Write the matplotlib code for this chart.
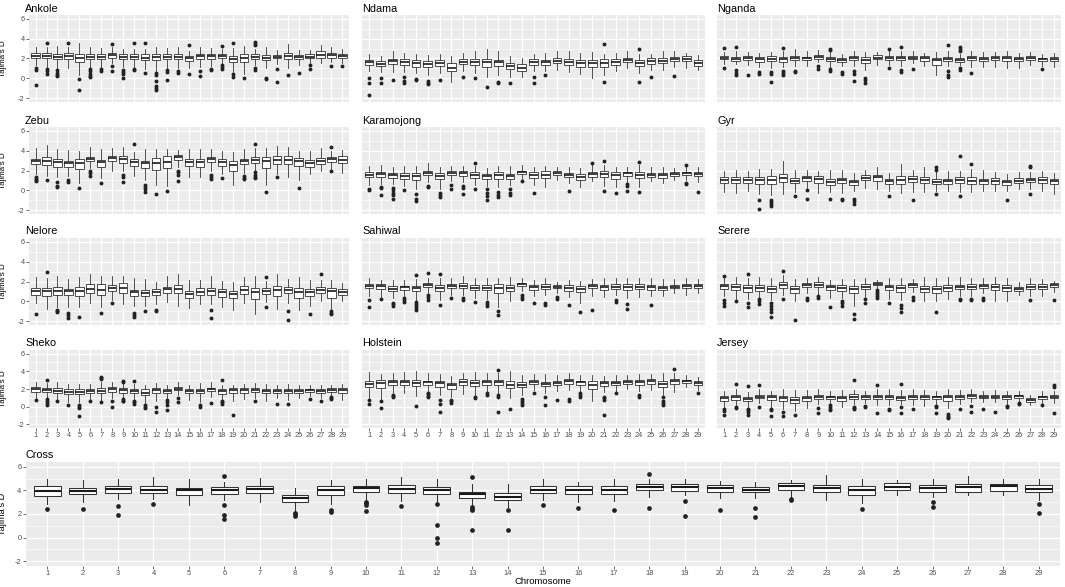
import matplotlib
matplotlib.use("Agg")
import matplotlib.pyplot as plt

plt.rcParams['font.family'] = ['Liberation Sans', 'DejaVu Sans']

# Tajima's D per chromosome, box statistics
chromosomes = list(range(1, 30))
breeds = ["Ankole", "Ndama", "Nganda", "Zebu", "Karamojong", "Gyr",
          "Nelore", "Sahiwal", "Serere", "Sheko", "Holstein", "Jersey"]

median = {
    "Ankole": [2.3, 2.3, 2.2, 2.25, 2.1, 2.15, 2.2, 2.35, 2.2, 2.2, 2.1, 2.15, 2.2, 2.2, 2.05, 2.25, 2.25, 2.3, 1.95, 2.05, 2.2, 2.1, 2.2, 2.3, 2.15, 2.2, 2.4, 2.35, 2.25],
    "Ndama": [1.6, 1.45, 1.7, 1.6, 1.5, 1.4, 1.55, 1.05, 1.65, 1.65, 1.6, 1.6, 1.2, 1.05, 1.65, 1.6, 1.75, 1.6, 1.5, 1.5, 1.55, 1.65, 1.85, 1.55, 1.7, 1.75, 1.95, 1.95, 1.55],
    "Nganda": [2.1, 1.95, 2.05, 1.9, 1.95, 1.95, 2.05, 2.0, 2.15, 1.95, 1.85, 2.05, 1.85, 2.1, 2.05, 2.05, 2.1, 2.0, 1.8, 1.95, 1.85, 2.05, 1.95, 2.0, 2.0, 1.9, 2.05, 1.9, 1.95],
    "Zebu": [3.0, 3.0, 2.85, 2.75, 2.8, 3.2, 2.85, 3.25, 3.15, 2.85, 2.75, 2.8, 2.9, 3.35, 2.85, 2.9, 3.15, 2.85, 2.6, 2.95, 3.1, 2.95, 3.05, 3.05, 3.0, 2.8, 3.0, 3.15, 3.1],
    "Karamojong": [1.55, 1.6, 1.5, 1.45, 1.4, 1.75, 1.45, 1.7, 1.7, 1.55, 1.4, 1.55, 1.4, 1.85, 1.5, 1.55, 1.75, 1.55, 1.35, 1.6, 1.65, 1.5, 1.7, 1.55, 1.55, 1.5, 1.65, 1.75, 1.6],
    "Gyr": [1.0, 1.05, 1.0, 1.0, 1.05, 1.25, 0.95, 1.2, 1.1, 0.85, 1.0, 0.8, 1.25, 1.3, 0.9, 1.0, 1.15, 1.05, 0.85, 0.95, 1.0, 0.95, 0.95, 0.95, 0.8, 0.95, 1.05, 1.0, 0.9],
    "Nelore": [1.0, 1.0, 1.05, 1.0, 1.05, 1.25, 1.1, 1.35, 1.35, 0.9, 0.85, 0.95, 1.2, 1.2, 0.7, 0.95, 1.05, 0.95, 0.7, 1.15, 0.9, 1.05, 1.1, 1.15, 0.95, 0.95, 1.1, 1.05, 0.95],
    "Sahiwal": [1.55, 1.5, 1.25, 1.4, 1.3, 1.6, 1.35, 1.55, 1.5, 1.35, 1.35, 1.35, 1.35, 1.7, 1.4, 1.45, 1.45, 1.35, 1.25, 1.55, 1.4, 1.45, 1.45, 1.45, 1.4, 1.3, 1.45, 1.55, 1.55],
    "Serere": [1.5, 1.45, 1.3, 1.35, 1.25, 1.65, 1.25, 1.65, 1.65, 1.4, 1.35, 1.2, 1.45, 1.75, 1.4, 1.35, 1.6, 1.25, 1.2, 1.3, 1.45, 1.45, 1.55, 1.45, 1.3, 1.25, 1.45, 1.45, 1.6],
    "Sheko": [1.95, 1.9, 1.8, 1.7, 1.7, 1.8, 1.8, 1.95, 1.9, 1.75, 1.6, 1.9, 1.75, 2.05, 1.75, 1.8, 1.95, 1.75, 1.85, 1.85, 1.85, 1.75, 1.75, 1.75, 1.8, 1.85, 1.8, 1.9, 1.85],
    "Holstein": [2.6, 2.65, 2.75, 2.75, 2.7, 2.75, 2.65, 2.4, 2.8, 2.7, 2.8, 2.8, 2.5, 2.5, 2.8, 2.6, 2.7, 2.85, 2.75, 2.5, 2.65, 2.7, 2.8, 2.8, 2.85, 2.6, 2.85, 2.85, 2.7],
    "Jersey": [1.0, 1.05, 0.85, 1.15, 1.05, 0.95, 0.8, 0.95, 1.15, 1.05, 1.0, 1.15, 1.05, 1.1, 1.1, 1.0, 1.1, 1.15, 1.05, 1.05, 1.1, 1.25, 1.1, 1.15, 1.1, 1.2, 0.8, 1.05, 1.15],
    "Cross": [3.95, 3.95, 4.13, 4.05, 4.0, 3.99, 4.1, 3.33, 3.99, 4.19, 4.13, 3.99, 3.68, 3.48, 4.05, 4.05, 3.99, 4.3, 4.25, 4.19, 4.07, 4.33, 4.16, 4.02, 4.3, 4.22, 4.25, 4.33, 4.13],
}

q1 = {
    "Ankole": [2.0, 2.0, 1.95, 1.95, 1.65, 1.9, 1.95, 2.1, 1.9, 1.9, 1.8, 1.8, 1.9, 1.9, 1.75, 1.95, 1.95, 2.05, 1.6, 1.6, 1.95, 1.8, 2.0, 1.95, 1.95, 2.0, 2.1, 2.1, 2.05],
    "Ndama": [1.35, 1.2, 1.4, 1.35, 1.15, 1.1, 1.2, 0.7, 1.4, 1.35, 1.15, 1.2, 0.9, 0.75, 1.35, 1.35, 1.5, 1.3, 1.1, 1.1, 1.15, 1.35, 1.6, 1.25, 1.45, 1.5, 1.7, 1.7, 1.25],
    "Nganda": [1.9, 1.75, 1.8, 1.65, 1.7, 1.65, 1.85, 1.8, 1.95, 1.7, 1.6, 1.8, 1.5, 1.9, 1.85, 1.8, 1.9, 1.75, 1.35, 1.7, 1.65, 1.8, 1.7, 1.8, 1.7, 1.7, 1.85, 1.7, 1.7],
    "Zebu": [2.7, 2.6, 2.4, 2.4, 2.2, 2.95, 2.4, 2.95, 2.8, 2.45, 2.3, 2.1, 2.3, 3.1, 2.5, 2.4, 2.85, 2.5, 1.9, 2.7, 2.75, 2.25, 2.65, 2.65, 2.45, 2.4, 2.7, 2.85, 2.75],
    "Karamojong": [1.3, 1.3, 1.25, 1.15, 1.05, 1.5, 1.1, 1.5, 1.45, 1.25, 1.1, 1.15, 1.15, 1.65, 1.2, 1.2, 1.55, 1.3, 1.0, 1.35, 1.35, 1.15, 1.45, 1.2, 1.35, 1.25, 1.45, 1.55, 1.4],
    "Gyr": [0.7, 0.7, 0.7, 0.65, 0.65, 0.8, 0.7, 0.9, 0.75, 0.55, 0.7, 0.55, 1.0, 0.95, 0.6, 0.6, 0.8, 0.7, 0.6, 0.65, 0.7, 0.65, 0.65, 0.65, 0.55, 0.7, 0.8, 0.7, 0.6],
    "Nelore": [0.6, 0.5, 0.6, 0.6, 0.55, 0.8, 0.65, 1.0, 0.85, 0.55, 0.5, 0.6, 0.85, 0.8, 0.35, 0.6, 0.65, 0.45, 0.3, 0.7, 0.25, 0.75, 0.55, 0.85, 0.35, 0.5, 0.8, 0.35, 0.65],
    "Sahiwal": [1.3, 1.25, 1.0, 1.15, 1.0, 1.4, 1.05, 1.3, 1.3, 1.1, 1.1, 0.8, 1.05, 1.5, 1.15, 1.25, 1.3, 1.05, 0.95, 1.35, 1.15, 1.2, 1.15, 1.2, 1.15, 1.1, 1.3, 1.3, 1.35],
    "Serere": [1.2, 1.15, 0.95, 1.05, 0.9, 1.35, 0.85, 1.4, 1.4, 1.1, 1.05, 0.8, 1.2, 1.6, 1.15, 0.9, 1.4, 0.95, 0.85, 1.05, 1.2, 1.2, 1.35, 1.1, 1.0, 1.05, 1.2, 1.2, 1.4],
    "Sheko": [1.7, 1.65, 1.55, 1.4, 1.4, 1.55, 1.5, 1.7, 1.6, 1.5, 1.3, 1.6, 1.5, 1.85, 1.5, 1.5, 1.75, 1.45, 1.55, 1.55, 1.65, 1.5, 1.55, 1.55, 1.6, 1.65, 1.6, 1.7, 1.6],
    "Holstein": [2.2, 2.1, 2.45, 2.45, 2.3, 2.5, 2.25, 2.05, 2.4, 2.35, 2.5, 2.5, 2.1, 2.2, 2.55, 2.3, 2.45, 2.6, 2.5, 2.0, 2.35, 2.4, 2.6, 2.5, 2.6, 2.2, 2.55, 2.65, 2.5],
    "Jersey": [0.7, 0.8, 0.6, 0.95, 0.8, 0.6, 0.4, 0.65, 0.9, 0.9, 0.6, 0.9, 0.85, 0.85, 0.85, 0.8, 0.85, 0.9, 0.85, 0.65, 0.9, 1.0, 0.95, 0.95, 0.9, 1.0, 0.55, 0.85, 0.95],
    "Cross": [3.56, 3.68, 3.76, 3.76, 3.6, 3.7, 3.76, 2.99, 3.59, 3.85, 3.76, 3.68, 3.33, 3.16, 3.76, 3.68, 3.68, 3.99, 3.96, 3.85, 3.85, 4.05, 3.82, 3.59, 3.99, 3.9, 3.9, 3.96, 3.85],
}

q3 = {
    "Ankole": [2.55, 2.55, 2.5, 2.55, 2.5, 2.45, 2.45, 2.6, 2.5, 2.45, 2.45, 2.5, 2.5, 2.5, 2.3, 2.5, 2.5, 2.5, 2.25, 2.45, 2.45, 2.35, 2.4, 2.6, 2.4, 2.45, 2.8, 2.6, 2.5],
    "Ndama": [1.85, 1.7, 1.95, 1.9, 1.85, 1.7, 1.85, 1.55, 1.95, 1.9, 1.95, 1.85, 1.5, 1.4, 1.9, 1.85, 2.0, 1.9, 1.85, 1.85, 1.9, 1.95, 2.1, 1.85, 2.0, 2.05, 2.2, 2.25, 1.8],
    "Nganda": [2.3, 2.2, 2.3, 2.15, 2.25, 2.2, 2.3, 2.2, 2.35, 2.2, 2.1, 2.3, 2.15, 2.35, 2.3, 2.3, 2.3, 2.25, 2.05, 2.2, 2.05, 2.3, 2.2, 2.25, 2.3, 2.15, 2.25, 2.1, 2.2],
    "Zebu": [3.2, 3.4, 3.2, 3.0, 3.2, 3.4, 3.1, 3.45, 3.45, 3.15, 3.0, 3.3, 3.45, 3.6, 3.15, 3.2, 3.4, 3.15, 3.0, 3.2, 3.4, 3.35, 3.5, 3.5, 3.3, 3.1, 3.3, 3.4, 3.5],
    "Karamojong": [1.8, 1.8, 1.75, 1.7, 1.7, 1.95, 1.7, 1.9, 1.9, 1.8, 1.6, 1.8, 1.65, 2.0, 1.8, 1.9, 1.9, 1.75, 1.6, 1.85, 1.9, 1.8, 1.85, 1.85, 1.75, 1.7, 1.85, 1.85, 1.8],
    "Gyr": [1.3, 1.35, 1.3, 1.35, 1.4, 1.6, 1.2, 1.4, 1.45, 1.1, 1.2, 1.05, 1.5, 1.55, 1.15, 1.4, 1.4, 1.35, 1.1, 1.15, 1.3, 1.3, 1.15, 1.2, 1.0, 1.2, 1.25, 1.3, 1.15],
    "Nelore": [1.3, 1.3, 1.4, 1.2, 1.45, 1.7, 1.7, 1.65, 1.8, 1.15, 1.1, 1.2, 1.45, 1.6, 1.0, 1.3, 1.35, 1.25, 1.05, 1.5, 1.35, 1.3, 1.5, 1.4, 1.3, 1.25, 1.4, 1.35, 1.2],
    "Sahiwal": [1.75, 1.75, 1.5, 1.55, 1.55, 1.8, 1.6, 1.75, 1.8, 1.6, 1.6, 1.75, 1.65, 1.85, 1.6, 1.7, 1.6, 1.6, 1.5, 1.75, 1.6, 1.7, 1.7, 1.7, 1.6, 1.55, 1.6, 1.75, 1.75],
    "Serere": [1.75, 1.75, 1.6, 1.6, 1.55, 1.9, 1.5, 1.85, 1.9, 1.6, 1.6, 1.5, 1.75, 1.9, 1.65, 1.6, 1.8, 1.5, 1.55, 1.6, 1.65, 1.7, 1.75, 1.75, 1.6, 1.45, 1.7, 1.7, 1.8],
    "Sheko": [2.2, 2.1, 2.1, 2.0, 1.95, 2.05, 2.1, 2.2, 2.1, 2.0, 1.95, 2.15, 2.0, 2.25, 2.0, 2.05, 2.15, 2.0, 2.1, 2.1, 2.1, 1.95, 2.0, 2.0, 2.0, 2.0, 1.95, 2.1, 2.1],
    "Holstein": [2.9, 3.0, 3.0, 3.05, 3.05, 2.95, 2.95, 2.7, 3.1, 3.0, 3.05, 3.05, 2.9, 2.75, 3.0, 2.8, 2.95, 3.1, 2.95, 2.85, 2.9, 2.95, 3.0, 3.05, 3.1, 2.95, 3.1, 3.05, 2.9],
    "Jersey": [1.2, 1.3, 1.1, 1.35, 1.3, 1.25, 1.15, 1.2, 1.35, 1.25, 1.25, 1.4, 1.3, 1.35, 1.35, 1.25, 1.35, 1.35, 1.25, 1.35, 1.35, 1.45, 1.3, 1.35, 1.3, 1.35, 1.0, 1.25, 1.35],
    "Cross": [4.33, 4.2, 4.36, 4.33, 4.2, 4.27, 4.36, 3.59, 4.36, 4.36, 4.42, 4.27, 3.9, 3.76, 4.33, 4.33, 4.33, 4.58, 4.56, 4.47, 4.3, 4.61, 4.44, 4.33, 4.61, 4.44, 4.53, 4.53, 4.44],
}

whisker_lo = {
    "Ankole": [1.3, 1.1, 1.0, 1.0, 0.3, 1.1, 1.1, 1.5, 1.1, 1.1, 0.9, 0.7, 1.0, 1.0, 1.0, 1.1, 1.2, 1.5, 0.6, 0.4, 1.3, 1.0, 1.4, 1.0, 1.3, 1.5, 1.5, 1.6, 1.5],
    "Ndama": [0.7, 0.6, 0.6, 0.6, 0.5, 0.3, 0.5, -0.4, 0.7, 0.5, 0.1, 0.3, 0.1, 0.1, 0.7, 0.7, 0.8, 0.6, 0.4, 0.0, 0.3, 0.7, 1.0, 0.5, 0.8, 0.8, 1.1, 1.0, 0.8],
    "Nganda": [1.4, 1.4, 1.3, 1.1, 1.0, 1.1, 1.2, 1.2, 1.6, 1.0, 1.2, 1.2, 0.8, 1.3, 1.3, 1.2, 1.5, 1.2, 0.3, 1.2, 1.3, 1.1, 1.1, 1.1, 1.0, 1.0, 1.3, 1.2, 1.1],
    "Zebu": [1.6, 1.4, 1.3, 1.4, 0.7, 2.3, 1.2, 1.9, 1.9, 1.4, 1.0, 0.5, 0.4, 2.4, 1.3, 1.3, 2.0, 1.6, 0.5, 1.7, 1.9, 0.5, 1.6, 1.3, 1.0, 1.6, 2.0, 2.1, 1.7],
    "Karamojong": [0.5, 0.6, 0.6, 0.4, 0.1, 0.8, 0.1, 0.9, 0.8, 0.5, 0.4, 0.3, 0.5, 1.1, 0.5, 0.3, 1.0, 0.7, 0.3, 0.9, 0.4, 0.3, 0.8, 0.3, 0.9, 0.7, 1.0, 1.0, 0.8],
    "Gyr": [-0.2, -0.3, -0.1, -0.4, -0.5, -0.4, -0.2, 0.2, -0.3, -0.2, -0.3, -0.1, 0.2, 0.1, -0.1, -0.3, -0.2, -0.2, -0.1, -0.1, -0.2, -0.2, -0.1, -0.1, -0.1, 0.1, 0.1, -0.1, -0.4],
    "Nelore": [-0.2, -0.8, -0.6, -0.6, -0.6, -0.2, -0.6, 0.1, -0.3, -0.5, -0.5, -0.3, -0.1, -0.5, -0.7, -0.3, -0.3, -0.6, -0.9, -0.2, -1.3, -0.1, -0.8, -0.2, -0.9, -0.5, 0.0, -0.8, 0.0],
    "Sahiwal": [0.5, 0.4, 0.3, 0.5, 0.1, 0.8, 0.1, 0.6, 0.6, 0.3, 0.2, -0.6, 0.0, 1.0, 0.5, 0.6, 0.8, 0.4, -0.2, 0.5, 0.4, 0.6, 0.3, 0.4, 0.5, 0.5, 0.8, 0.6, 0.8],
    "Serere": [0.5, 0.2, 0.2, 0.3, 0.1, 0.6, 0.0, 0.8, 0.7, 0.3, 0.3, -0.5, 0.4, 1.3, 0.2, 0.1, 0.9, 0.0, 0.0, 0.2, 0.5, 0.5, 0.8, 0.0, 0.0, 0.6, 0.5, 0.5, 0.9],
    "Sheko": [1.0, 1.0, 0.8, 0.5, 0.5, 0.9, 0.7, 1.0, 1.0, 0.9, 0.3, 0.7, 0.9, 1.3, 0.8, 0.5, 1.1, 0.8, 0.7, 0.9, 1.0, 0.7, 1.0, 0.8, 1.0, 1.2, 1.0, 1.2, 0.8],
    "Holstein": [1.0, 0.9, 1.5, 1.5, 1.2, 1.8, 1.3, 1.1, 1.4, 1.3, 1.6, 1.6, 1.0, 1.3, 1.9, 1.5, 1.8, 1.9, 1.8, 0.7, 1.7, 1.8, 2.0, 1.8, 1.9, 1.3, 1.7, 2.2, 1.9],
    "Jersey": [0.0, 0.2, 0.0, 0.4, 0.0, -0.3, -0.5, -0.1, 0.3, 0.4, 0.0, 0.3, 0.4, 0.2, 0.2, 0.3, 0.2, 0.1, 0.3, -0.1, 0.3, 0.5, 0.5, 0.5, 0.3, 0.6, 0.2, 0.3, 0.4],
    "Cross": [2.85, 3.0, 3.25, 3.25, 2.76, 3.2, 3.02, 2.19, 2.85, 3.2, 3.1, 3.13, 2.76, 2.62, 3.2, 3.05, 3.13, 3.42, 3.62, 3.33, 3.33, 3.42, 3.16, 2.9, 3.62, 3.42, 3.59, 3.59, 3.2],
}

whisker_hi = {
    "Ankole": [3.2, 3.2, 3.3, 3.2, 3.55, 3.2, 3.1, 3.2, 3.0, 3.0, 3.0, 3.2, 3.1, 3.2, 2.8, 3.2, 3.1, 3.0, 3.1, 3.3, 3.0, 3.2, 2.9, 3.5, 2.9, 2.9, 3.4, 3.2, 3.0],
    "Ndama": [2.5, 2.3, 2.8, 2.6, 2.5, 2.4, 2.5, 2.3, 2.6, 2.8, 3.0, 2.8, 2.3, 2.0, 2.5, 2.6, 2.8, 2.8, 2.6, 2.7, 2.5, 2.6, 2.8, 2.5, 2.5, 2.8, 2.8, 2.6, 2.4],
    "Nganda": [2.7, 2.8, 2.7, 2.6, 2.7, 2.8, 3.0, 2.75, 2.85, 2.8, 2.5, 2.8, 2.7, 2.7, 2.75, 2.8, 2.8, 2.6, 2.7, 2.8, 2.5, 2.75, 2.65, 2.7, 2.8, 2.6, 2.7, 2.5, 2.6],
    "Zebu": [4.3, 4.6, 4.2, 4.1, 4.0, 4.4, 4.2, 4.3, 4.4, 3.9, 4.2, 4.2, 4.2, 4.1, 4.2, 4.2, 4.2, 4.0, 3.9, 4.2, 4.3, 4.3, 4.5, 4.4, 4.0, 4.0, 4.3, 4.0, 4.1],
    "Karamojong": [2.5, 2.6, 2.4, 2.5, 2.5, 2.8, 2.4, 2.5, 2.5, 2.5, 2.3, 2.5, 2.5, 2.6, 2.4, 2.5, 2.4, 2.4, 2.3, 2.7, 2.6, 2.4, 2.4, 2.6, 2.4, 2.4, 2.3, 2.4, 2.4],
    "Gyr": [1.9, 2.1, 2.0, 2.2, 2.2, 3.0, 2.1, 2.1, 2.0, 2.1, 2.1, 1.7, 2.1, 2.4, 1.7, 2.7, 2.1, 2.4, 1.8, 1.9, 2.0, 2.2, 2.1, 1.8, 1.6, 1.8, 1.8, 1.9, 1.7],
    "Nelore": [2.5, 2.4, 2.6, 2.3, 2.5, 2.8, 2.6, 2.6, 2.6, 2.4, 2.3, 2.0, 2.6, 2.8, 2.2, 2.2, 2.6, 2.1, 2.0, 2.5, 2.6, 2.1, 2.8, 2.3, 2.5, 2.2, 2.2, 2.2, 1.8],
    "Sahiwal": [2.4, 2.2, 2.2, 2.2, 2.3, 2.4, 2.4, 2.4, 2.6, 2.4, 2.4, 2.4, 2.5, 2.4, 2.2, 2.4, 2.0, 2.2, 2.1, 2.3, 2.4, 2.4, 2.4, 2.4, 2.4, 2.3, 2.3, 2.4, 2.3],
    "Serere": [2.4, 2.5, 2.4, 2.5, 2.4, 2.7, 2.3, 2.4, 2.5, 2.2, 2.3, 2.3, 2.4, 2.2, 2.4, 2.4, 2.3, 2.5, 2.4, 2.5, 2.5, 2.4, 2.4, 2.5, 2.4, 2.0, 2.4, 2.3, 2.1],
    "Sheko": [2.8, 2.7, 2.8, 2.6, 2.6, 2.6, 2.8, 2.8, 2.8, 2.6, 2.5, 2.7, 2.5, 2.8, 2.5, 2.7, 2.8, 2.5, 2.5, 2.6, 2.7, 2.6, 2.5, 2.6, 2.4, 2.4, 2.5, 2.5, 2.6],
    "Holstein": [3.9, 3.7, 3.8, 3.9, 4.0, 3.8, 3.7, 3.5, 3.8, 3.9, 3.8, 3.8, 4.0, 3.6, 3.7, 3.7, 3.6, 3.8, 3.6, 3.6, 3.5, 3.6, 3.6, 3.7, 3.7, 3.8, 3.8, 3.6, 3.4],
    "Jersey": [1.8, 2.0, 1.7, 2.0, 1.8, 2.0, 1.9, 1.9, 2.0, 1.8, 1.9, 1.9, 1.8, 2.0, 2.0, 1.9, 2.0, 1.9, 1.8, 2.0, 1.9, 2.0, 1.8, 1.9, 1.8, 1.8, 1.3, 1.8, 1.8],
    "Cross": [5.0, 4.85, 4.95, 5.13, 4.95, 4.75, 5.04, 4.19, 4.85, 4.95, 5.1, 5.0, 4.56, 4.56, 4.95, 4.7, 4.95, 4.95, 4.95, 4.76, 4.67, 4.9, 5.27, 4.95, 4.9, 4.99, 5.18, 4.95, 4.95],
}

# outlying points, keyed by chromosome
outliers = {
    "Ankole": {1: [1.0, 0.85, -0.7], 2: [3.55, 0.9, 0.7, 0.4], 3: [0.8, 0.5, 0.3, 0.2], 4: [3.6], 5: [-0.1, -1.2],
               6: [0.9, 0.7, 0.45, 0.2, 0.1], 7: [0.95, 0.7], 8: [3.45, 1.2, 0.7], 9: [0.8, 0.6, 0.4, 0.05],
               10: [3.55, 0.9, 0.8], 11: [3.55, 0.55], 12: [0.5, 0.3, -0.3, -0.8, -1.0, -1.2], 13: [0.8, 0.65, -0.15],
               14: [0.7, 0.5], 15: [3.35, 0.45], 16: [0.7, 0.2], 17: [0.95, 0.85], 18: [3.25, 1.3, 1.1, 0.95],
               19: [3.6, 0.45, 0.1], 20: [0.05], 21: [3.7, 3.5, 3.35, 1.0, 0.85], 22: [0.0, -0.1], 23: [0.9, -0.35],
               24: [0.35], 25: [0.5], 26: [1.3, 0.9], 28: [1.2], 29: [1.25]},
    "Ndama": {1: [0.0, -0.5, -1.7], 2: [0.0, -0.5], 3: [-0.2], 4: [0.1, -0.3, -0.5], 5: [-0.1, -0.2],
              6: [-0.3, -0.5, -0.6], 7: [-0.2], 9: [0.15], 10: [0.0], 11: [-0.85], 12: [-0.4, -0.5], 13: [-0.5],
              15: [0.1, -0.5], 16: [0.3], 21: [3.5, -0.4], 24: [3.0, -0.4], 25: [0.1], 27: [0.2]},
    "Nganda": {1: [3.1, 1.05], 2: [3.2, 0.8, 0.5, 0.3], 3: [0.3], 4: [0.6, 0.4], 5: [0.6, 0.4, -0.4],
               6: [3.1, 0.7, 0.5, 0.35], 7: [0.75, 0.6], 9: [1.2, 0.9], 10: [3.0, 2.9, 0.9, 0.7], 11: [0.6, 0.4],
               12: [0.7, 0.4, -0.3], 13: [0.0, -0.2, -0.45], 15: [3.0, 1.0], 16: [3.2, 0.8, 0.6], 17: [0.9],
               20: [3.35, 0.7, 0.35, 0.1], 21: [3.2, 3.0, 2.8, 1.0, 0.8], 22: [0.5], 28: [0.9]},
    "Zebu": {1: [1.3, 1.1, 1.0, 0.9], 2: [1.0], 3: [0.8, 0.4, 0.3], 4: [1.0, 0.8], 5: [0.25], 6: [1.9, 1.7, 1.4],
             7: [0.7], 9: [1.5, 1.3, 0.8], 10: [4.7], 11: [0.5, 0.3, 0.1, -0.2], 12: [-0.4], 13: [-0.1],
             14: [2.0, 1.8, 1.5, 0.9], 17: [1.5, 1.3, 1.1], 18: [1.2], 20: [1.4, 1.2, 1.1],
             21: [4.7, 1.8, 1.5, 1.3, 1.2], 22: [-0.15], 23: [1.35], 25: [0.25], 28: [4.4, 1.9]},
    "Karamojong": {1: [0.1, 0.0], 2: [0.3, 0.2, -0.5], 3: [0.2, 0.0, -0.3, -0.5, -0.9], 4: [0.0], 5: [-0.4, -0.9, -1.1],
                   6: [0.4, 0.3], 7: [-0.3, -0.5, -0.7], 8: [0.5, 0.1], 9: [0.4, 0.2, -0.4], 10: [2.8, 0.1],
                   11: [0.1, -0.3, -0.6, -1.0], 12: [-0.2, -0.5, -0.7], 13: [0.1, -0.3, -0.5], 14: [0.95], 15: [-0.3],
                   18: [-0.1], 20: [2.8], 21: [3.0, -0.1], 22: [-0.3], 23: [0.6, 0.4, -0.1], 24: [2.9, -0.2],
                   28: [2.6, 0.7, 0.6], 29: [-0.2]},
    "Gyr": {4: [-1.0, -1.9], 5: [-1.0, -1.2, -1.35, -1.55], 7: [-0.6], 8: [0.0, -0.85], 10: [-0.85], 11: [-0.85, -1.0],
            12: [-0.85, -1.1, -1.4], 15: [-0.6], 17: [-0.95], 19: [2.4, 2.1, -0.35], 21: [3.5, -0.6], 22: [2.7],
            25: [-0.95], 27: [2.5, 2.35, -0.4]},
    "Nelore": {1: [-1.3], 2: [2.95], 3: [-0.9, -1.0, -1.1], 4: [-1.2, -1.4, -1.7], 5: [-1.6], 7: [-1.2], 8: [-0.15],
               10: [-1.2, -1.4, -1.6], 11: [-1.0], 12: [-0.9, -1.0], 17: [-0.9, -1.7], 22: [2.45, -0.6],
               24: [-1.0, -1.9], 26: [-1.3], 27: [2.8], 28: [-1.0, -1.2, -1.3]},
    "Sahiwal": {1: [0.15, -0.55], 2: [0.2], 3: [-0.2, -0.3, -0.5], 4: [0.3, 0.1, -0.05], 5: [2.7, -0.1, -0.3, -0.5, -0.7, -0.9],
                6: [2.9, 0.6, 0.4, 0.1], 7: [2.8, -0.4], 8: [0.3], 9: [0.3, 0.1], 10: [-0.05], 11: [-0.1, -0.3, -0.5],
                12: [-1.0, -1.4], 14: [0.6, 0.4, 0.2], 15: [-0.2], 16: [-0.15, -0.4], 17: [0.4, 0.2], 18: [-0.4],
                19: [-1.05], 20: [-0.9], 22: [0.15, -0.05], 23: [-0.3, -0.8], 25: [-0.4]},
    "Serere": {1: [2.6, 0.1, -0.2, -0.45], 2: [0.0], 3: [2.8, -0.2, -0.6], 4: [0.2, 0.0, -0.3], 5: [-0.2, -0.5, -0.8, -1.1, -1.6],
               6: [3.1, 0.2], 7: [-1.9], 8: [0.3, 0.15], 9: [0.5, 0.3], 10: [-0.6], 11: [0.0, -0.2, -0.5],
               12: [-1.25, -1.8], 13: [0.2, -0.2], 14: [1.1, 0.9, 0.7, 0.5, 0.3], 15: [-0.2], 16: [-0.4, -0.7, -1.05],
               17: [0.4, 0.1], 19: [-1.07], 21: [0.2, 0.1], 22: [0.2, 0.1], 23: [0.3, 0.1], 27: [0.1], 29: [0.1]},
    "Sheko": {1: [0.8], 2: [3.0, 0.9, 0.6, 0.4, 0.2], 3: [0.6], 4: [0.25], 5: [0.2, 0.0, -0.1, -1.1], 6: [0.6],
              7: [3.4, 3.2, 3.1, 0.5], 8: [0.6, 0.0], 9: [2.9, 2.8, 0.9, 0.7, 0.6], 10: [2.9, 0.7, 0.5, 0.3],
              11: [0.2, 0.0, -0.15], 12: [0.0, -0.6], 13: [0.8, 0.5, 0.2, -0.4], 14: [1.0, 0.5], 16: [0.15, 0.0],
              17: [0.4], 18: [3.05, 0.7, 0.5, 0.35], 19: [-0.9], 21: [0.7], 23: [0.3], 24: [0.35], 26: [0.9],
              27: [0.6], 28: [1.1, 0.95, 0.85]},
    "Holstein": {1: [0.8, 0.3], 2: [0.7, -0.15], 3: [1.3, 1.2, 1.05], 5: [0.1], 6: [1.6, 1.4, 1.2, 1.1],
                 7: [0.8, 0.3, -0.6], 8: [0.8, 0.6, 0.4], 10: [1.1, 0.95], 11: [1.5, 1.35], 12: [4.2, 1.3, 1.1, -0.6],
                 13: [-0.3], 14: [0.9, 0.6, 0.4, 0.2], 15: [1.6], 16: [1.05, 0.15], 17: [0.8], 18: [0.9, 0.7],
                 19: [1.55, 1.35, 1.15], 21: [1.15, 1.0, 0.8, -0.95], 22: [1.6], 24: [1.35, 1.15],
                 26: [1.15, 0.6, 0.4, 0.2], 27: [4.3], 29: [1.55]},
    "Jersey": {1: [-0.3, -0.5, -0.9], 2: [2.6, 0.0, -0.1], 3: [2.3, -0.3, -0.4, -0.6, -0.9], 4: [2.5, 0.0],
               5: [-0.2, -0.4, -1.1], 6: [-0.6, -1.0], 7: [-0.9], 9: [-0.1, -0.7], 10: [0.2, 0.0, -0.2, -0.4],
               12: [3.0, 0.0, -0.1, -0.3], 13: [0.1, 0.0], 14: [2.5, -0.7], 15: [-0.2, -0.4], 16: [2.6, 0.0, -0.7],
               17: [-0.3], 19: [0.1, 0.0, -0.7], 20: [-0.8, -1.0, -1.2, -1.3], 21: [-0.2], 22: [0.1, -0.6],
               23: [-0.2], 24: [-0.6], 25: [0.1, 0.0], 26: [0.4, 0.3], 28: [0.2], 29: [2.4, 2.2, -0.7]},
    "Cross": {1: [2.4], 2: [2.45], 3: [2.7, 1.95], 4: [2.85], 6: [5.18, 2.76, 1.9, 1.57], 8: [2.1, 2.0, 1.8],
              9: [2.33, 2.17], 10: [3.0, 2.9, 2.8, 2.25], 11: [2.65], 12: [2.88, 1.11, 0.0, -0.43],
              13: [5.1, 2.56, 2.45, 2.3, 0.63], 14: [2.33, 0.65], 15: [2.73], 16: [2.53], 17: [2.3],
              18: [5.38, 2.5], 19: [3.13, 1.85], 20: [2.3], 21: [2.5, 1.71], 22: [3.25, 3.16], 24: [2.42],
              26: [2.99, 2.62], 29: [2.85, 2.1]},
}

y_ticks = [-2, 0, 2, 4, 6]

W, H = 1065, 587
fig = plt.figure(figsize=(W / 100, H / 100), dpi=100)

GRID_BG = "#EBEBEB"
LINE = "#333333"
TICK_TXT = "#4D4D4D"


def px_rect(x0, x1, top, bottom):
    return [x0 / W, 1 - bottom / H, (x1 - x0) / W, (bottom - top) / H]


def draw_panel(ax, breed, lw, ms):
    stats = []
    for i, c in enumerate(chromosomes):
        stats.append(dict(med=median[breed][i], q1=q1[breed][i], q3=q3[breed][i],
                          whislo=whisker_lo[breed][i], whishi=whisker_hi[breed][i],
                          fliers=outliers[breed].get(c, [])))
    ax.bxp(stats, positions=chromosomes, widths=0.75, patch_artist=True, showcaps=False,
           boxprops=dict(facecolor="white", edgecolor=LINE, linewidth=lw),
           medianprops=dict(color="#1A1A1A", linewidth=lw * 2.0, solid_capstyle="butt"),
           whiskerprops=dict(color=LINE, linewidth=lw),
           flierprops=dict(marker="o", markerfacecolor="#222222", markeredgecolor="none", markersize=ms))
    ax.set_facecolor(GRID_BG)
    ax.set_xlim(0.4, 29.6)
    ax.set_ylim(-2.4, 6.4)
    ax.set_yticks(y_ticks)
    ax.set_yticks([-1, 1, 3, 5], minor=True)
    ax.set_xticks(chromosomes)
    ax.set_xticklabels([str(c) for c in chromosomes])
    ax.grid(which="major", color="white", linewidth=0.9)
    ax.grid(which="minor", axis="y", color="white", linewidth=0.45)
    ax.set_axisbelow(True)
    for s in ax.spines.values():
        s.set_visible(False)
    ax.tick_params(which="minor", length=0)
    ax.tick_params(which="major", color=LINE, width=0.5, length=2, labelcolor=TICK_TXT, pad=1.2)


cols = [(29, 349), (362, 705), (717, 1061)]
title_x = [25, 362, 717]
tops = [15, 127, 238, 350]
bottoms = [102, 214, 325, 428]

for k, breed in enumerate(breeds):
    r, c = divmod(k, 3)
    x0, x1 = cols[c]
    ax = fig.add_axes(px_rect(x0, x1, tops[r], bottoms[r]))
    draw_panel(ax, breed, lw=0.6, ms=2.8)
    ax.tick_params(labelsize=5.3)
    if r < 3:
        ax.tick_params(axis="x", length=0, labelbottom=False)
    if c == 0:
        ax.set_yticklabels([str(t) for t in y_ticks])
        ax.set_ylabel("Tajima's D", fontsize=5.8, color="black")
        ax.yaxis.set_label_coords((7 - x0) / (x1 - x0), 0.5)
    else:
        ax.tick_params(axis="y", length=0, labelleft=False)
    fig.text(title_x[c] / W, 1 - (tops[r] - 3.5) / H, breed, fontsize=7.8, ha="left", va="baseline")

# Cross panel across the full width
cx0, cx1, ctop, cbot = 26, 1060, 462, 566
ax = fig.add_axes(px_rect(cx0, cx1, ctop, cbot))
draw_panel(ax, "Cross", lw=0.75, ms=3.4)
ax.tick_params(labelsize=5.4)
ax.set_yticklabels([str(t) for t in y_ticks])
ax.set_ylabel("Tajima's D", fontsize=6.6, color="black")
ax.yaxis.set_label_coords((7 - cx0) / (cx1 - cx0), 0.5)
ax.set_xlabel("Chromosome", fontsize=6.8, color="black")
ax.xaxis.set_label_coords(0.5, -(582 - cbot) / (cbot - ctop))
ax.xaxis.label.set_va("center")
fig.text(cx0 / W, 1 - (ctop - 4) / H, "Cross", fontsize=7.8, ha="left", va="baseline")

fig.savefig("out.png", dpi=100, facecolor="white")
